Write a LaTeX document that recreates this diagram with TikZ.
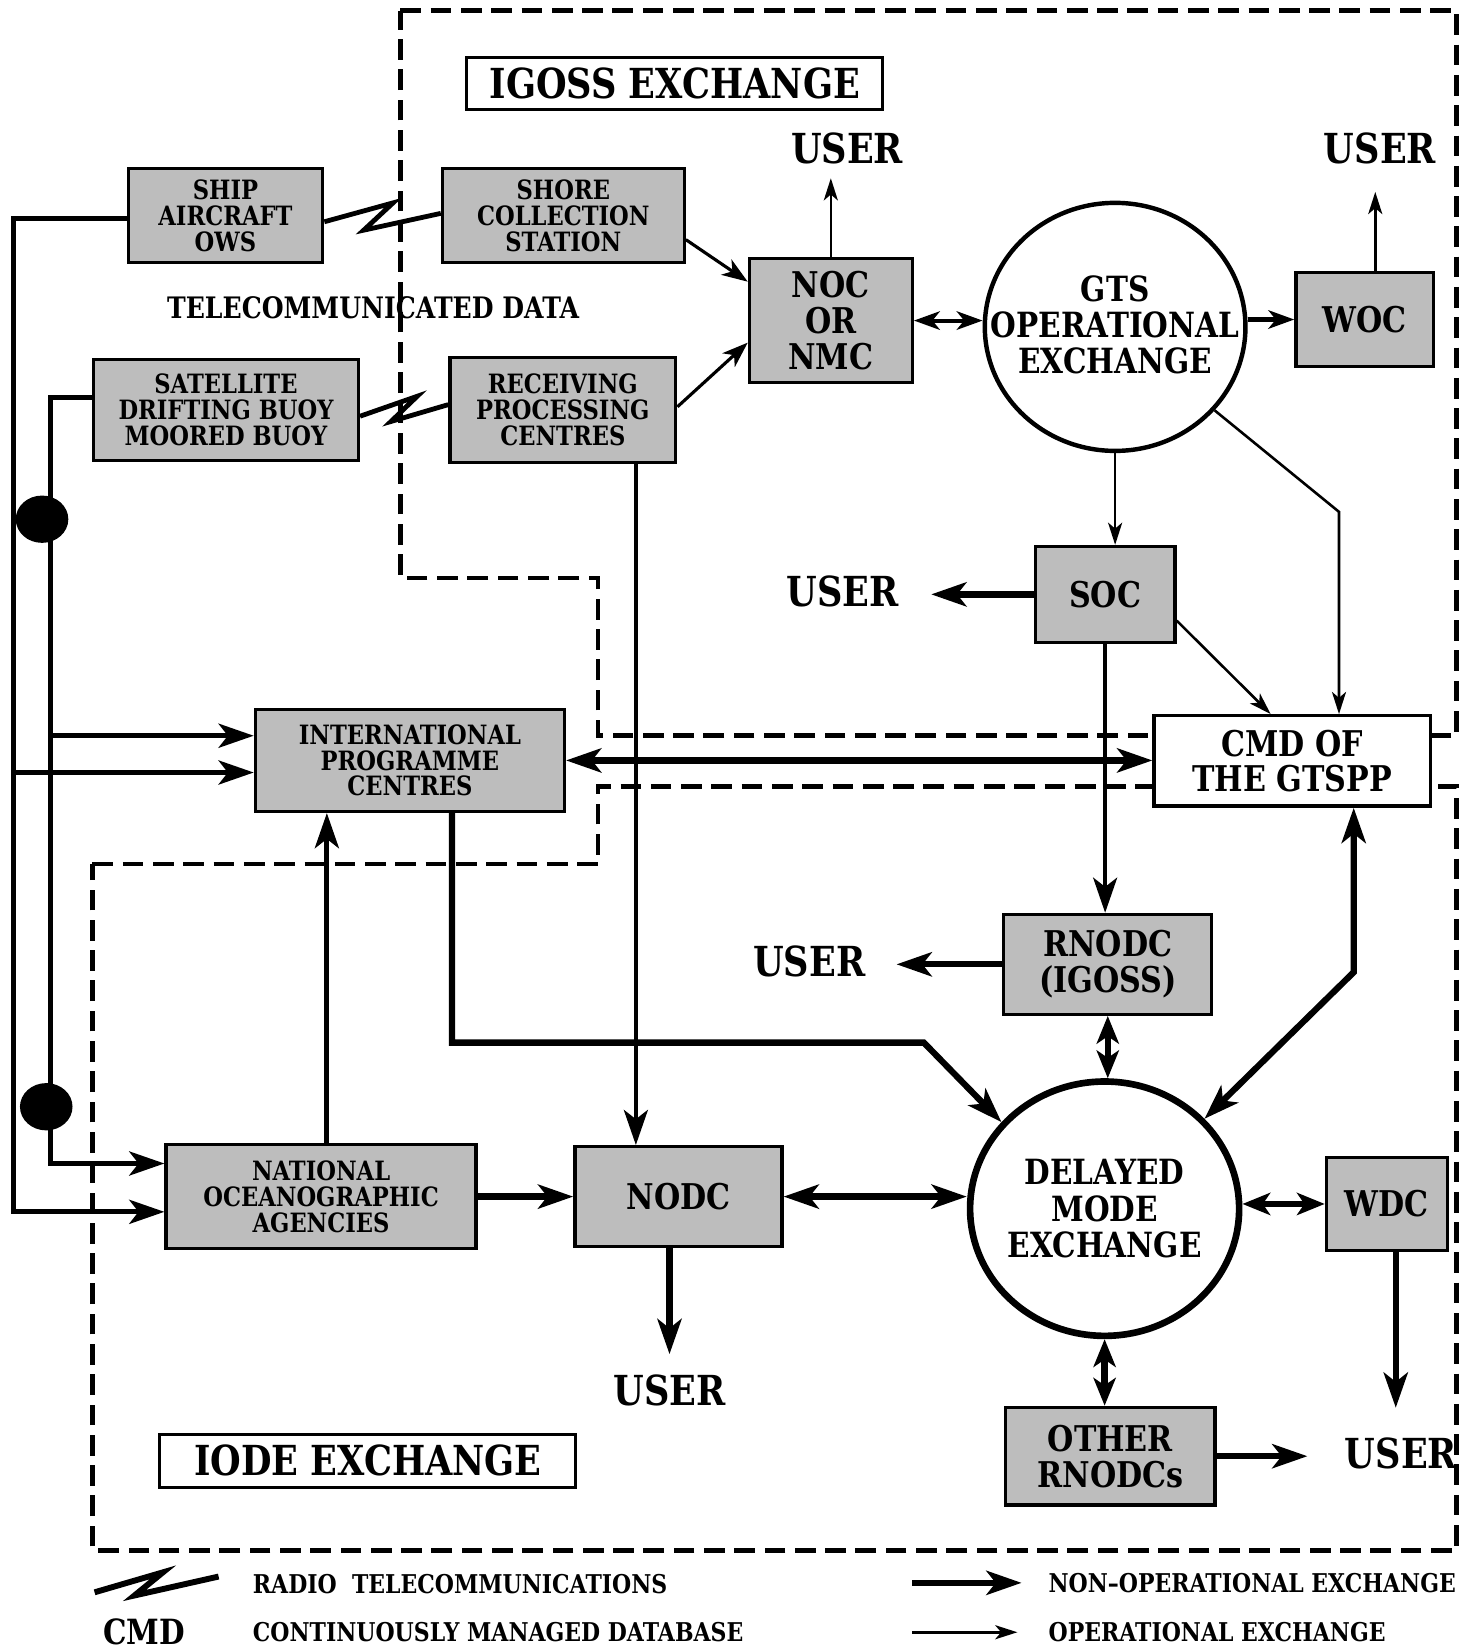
\documentclass[tikz,border=0pt]{standalone}
\usepackage{fontspec}
\setmainfont{DejaVu Serif}[FakeStretch=0.85]
\usetikzlibrary{arrows.meta,shapes.geometric,calc}
\definecolor{boxgray}{gray}{0.74}
\newcommand\fsz[2]{\fontsize{#1pt}{#2pt}\selectfont\bfseries}
\begin{document}
\begin{tikzpicture}[x=0.1mm,y=-0.1mm,
  boxnode/.style={draw, line width=0.9pt, fill=boxgray, inner sep=0pt, align=center, font=\fsz{7.2}{7}},
  bignode/.style={boxnode, font=\fsz{9.6}{9.7}},
  circnode/.style={ellipse, draw, fill=white, inner sep=0pt},
  circtxt/.style={inner sep=0pt, align=center, font=\fsz{9.4}{9.8}},
  usertxt/.style={inner sep=0pt, font=\fsz{11.2}{12}},
  labelbox/.style={draw, line width=0.8pt, fill=white, inner sep=0pt, font=\fsz{11.2}{12}},
  legtxt/.style={inner sep=0pt, font=\fsz{7}{7}},
  dotnode/.style={ellipse, fill=black, inner sep=0pt, minimum width=5mm, minimum height=4.5mm},
  region/.style={line width=1.3pt, dash pattern=on 5.6pt off 2.6pt},
  thk/.style={line width=1.7pt},
  med/.style={line width=1.1pt},
  thn/.style={line width=0.7pt},
  opl/.style={line width=0.85pt},
  bus/.style={line width=1.4pt},
  radio/.style={line width=1.3pt, line join=miter},
  tipB/.style={-{Stealth[length=9.5pt,width=6.5pt,inset=2.5pt]}},
  tipBB/.style={{Stealth[length=9.5pt,width=6.5pt,inset=2.5pt]}-{Stealth[length=9.5pt,width=6.5pt,inset=2.5pt]}},
  tipSB/.style={{Stealth[length=7.5pt,width=6pt,inset=2pt]}-{Stealth[length=7.5pt,width=6pt,inset=2pt]}},
  tipM/.style={-{Stealth[length=7pt,width=5pt,inset=2pt]}},
  tipMM/.style={{Stealth[length=7pt,width=5pt,inset=2pt]}-{Stealth[length=7pt,width=5pt,inset=2pt]}},
  tipS/.style={-{Stealth[length=6pt,width=3.8pt,inset=1.6pt]}}
]
\useasboundingbox (0,0) rectangle (1406,1568);

% regions
\draw[region] (381,10) -- (1386,10) -- (1386,700) -- (569,700) -- (569,550) -- (381,550) -- cycle;
\draw[region] (88,822) -- (569,822) -- (569,748) -- (1386,748) -- (1386,1475) -- (88,1475) -- cycle;

% nodes
\node[labelbox, minimum width=39.6mm, minimum height=4.9mm] (igoss) at (642,79.5) {IGOSS EXCHANGE};
\node[labelbox, minimum width=39.6mm, minimum height=5mm] (iode) at (350,1390) {IODE EXCHANGE};

\node[boxnode, minimum width=18.5mm, minimum height=9mm] (ship) at (214.5,205) {SHIP\\AIRCRAFT\\OWS};
\node[boxnode, minimum width=23mm, minimum height=9mm] (shore) at (536,205) {SHORE\\COLLECTION\\STATION};
\node[boxnode, minimum width=25.2mm, minimum height=9.6mm] (sat) at (215,390) {SATELLITE\\DRIFTING BUOY\\MOORED BUOY};
\node[boxnode, minimum width=21.5mm, minimum height=10mm] (recv) at (535.5,390) {RECEIVING\\PROCESSING\\CENTRES};
\node[bignode, minimum width=15.5mm, minimum height=11.8mm] (noc) at (790.5,305) {NOC\\OR\\NMC};
\node[circnode, line width=1.2pt, minimum width=24.8mm, minimum height=23.6mm] (gts) at (1061,311) {};
\node[circtxt] (gtst) at ([yshift=0.2mm]gts.center) {GTS\\OPERATIONAL\\EXCHANGE};
\node[bignode, minimum width=13.1mm, minimum height=9mm] (woc) at (1298.5,304) {WOC};
\node[bignode, minimum width=13.3mm, minimum height=9.1mm] (soc) at (1051.5,565.5) {SOC};
\node[boxnode, fill=white, font=\fsz{9.6}{9.4}, minimum width=26.3mm, minimum height=8.6mm] (cmd) at (1229.5,724) {CMD OF\\THE GTSPP};
\node[boxnode, minimum width=29.4mm, minimum height=9.7mm] (ipc) at (390,723.5) {INTERNATIONAL\\PROGRAMME\\CENTRES};
\node[bignode, minimum width=19.8mm, minimum height=9.5mm] (rnodc) at (1054,917.5) {RNODC\\(IGOSS)};
\node[boxnode, minimum width=29.5mm, minimum height=9.9mm] (nat) at (305.5,1138.5) {NATIONAL\\OCEANOGRAPHIC\\AGENCIES};
\node[bignode, minimum width=19.7mm, minimum height=9.5mm] (nodc) at (645.5,1138.5) {NODC};
\node[circnode, line width=1.8pt, minimum width=25.6mm, minimum height=24.2mm] (dme) at (1051,1150) {};
\node[circtxt] (dmet) at (dme.center) {DELAYED\\MODE\\EXCHANGE};
\node[bignode, minimum width=11.5mm, minimum height=8.9mm] (wdc) at (1319.5,1145.5) {WDC};
\node[bignode, minimum width=19.9mm, minimum height=9.3mm] (other) at (1056.5,1385.5) {OTHER\\RNODCs};

\node[usertxt] (u1) at (806,141) {USER};
\node[usertxt] (u2) at (1313,141) {USER};
\node[usertxt] (u3) at (802,563) {USER};
\node[usertxt] (u4) at (770,915) {USER};
\node[usertxt] (u5) at (637,1323) {USER};
\node[usertxt] (u6) at (1333,1383) {USER};

\node[inner sep=0pt, font=\fsz{8}{8}] (tele) at (355,293) {TELECOMMUNICATED DATA};

% left bus
\coordinate (ob1) at (13,1153);
\coordinate (ob2) at (13,735);
\coordinate (ib1) at (48,1107);
\coordinate (ib2) at (48,700);
\draw[bus, tipB] ([yshift=-0.3mm]ship.west) -| (ob1) -- (nat.west |- ob1);
\draw[bus, tipB] (ob2) -- (ipc.west |- ob2);
\draw[bus, tipB] ([yshift=1.2mm]sat.west) -| (ib1) -- (nat.west |- ib1);
\draw[bus, tipB] (ib2) -- (ipc.west |- ib2);
\node[dotnode] (dot1) at (40,494) {};
\node[dotnode] (dot2) at (44,1053) {};

% radio links
\draw[radio] ([yshift=-0.6mm]ship.east) -- (374,193) -- (346,219) -- ([yshift=0.2mm]shore.west);
\draw[radio] ([yshift=-0.6mm]sat.east) -- (397,377) -- (372,401) -- ([yshift=0.5mm]recv.west);

% IGOSS part
\draw[opl, tipM] ([yshift=-2.3mm]shore.east) -- ([yshift=3.7mm]noc.west);
\draw[opl, tipM] ([yshift=0.3mm]recv.east) -- ([yshift=-2.1mm]noc.west);
\draw[med, tipMM] (noc.east) -- (noc.east -| gts.west);
\draw[med, tipM] (woc.west -| gts.east) -- (woc.west);
\draw[thn, tipS, shorten >=1.3mm] (noc.north) -- (noc.north |- u1.south);
\draw[thn, tipS, shorten >=2.6mm] ([xshift=1mm]woc.north) -- ([xshift=1mm]woc.north |- u2.south);
\draw[thn, tipS] (gts.south) -- (gts.south |- soc.north);
\coordinate (gb) at (1274,487);
\draw[thn, tipS] (gts.-40) -- (gb) -- (gb |- cmd.north);
\draw[thn, tipS] ([yshift=-2.5mm]soc.east) -- ([xshift=-2.05mm]cmd.north);
\draw[thk, tipB, shorten >=3mm] (soc.west) -- (soc.west -| u3.east);
\draw[med, tipB] (soc.south) -- (soc.south |- rnodc.north);
\draw[med, tipB] ([xshift=6.95mm]recv.south) -- ([xshift=6.95mm]recv.south |- nodc.north);

% middle / IODE part
\draw[thk, tipBB] (ipc.east) -- (ipc.east -| cmd.west);
\draw[line width=1.4pt, tipB] ([xshift=0.55mm]nat.north) -- ([xshift=0.55mm]nat.north |- ipc.south);
\coordinate (ibend) at (879,992);
\draw[thk, tipB] ([xshift=4mm]ipc.south) |- (ibend) -- (dme.140);
\draw[thk, tipB] (nat.east) -- (nat.east -| nodc.west);
\draw[thk, tipBB] (nodc.east) -- (nodc.east -| dme.west);
\draw[thk, tipSB] (rnodc.south) -- (rnodc.south |- dme.north);
\coordinate (cbend) at (1288,925);
\draw[thk, tipBB] ([xshift=5.85mm]cmd.south) -- (cbend) -- (dme.42);
\draw[thk, tipSB] (wdc.west -| dme.east) -- (wdc.west);
\draw[thk, tipSB] (dme.south) -- (dme.south |- other.north);
\draw[thk, tipB, shorten >=2.9mm] (rnodc.west) -- (rnodc.west -| u4.east);
\draw[thk, tipB, shorten >=1.9mm] ([xshift=-0.85mm]nodc.south) -- ([xshift=-0.85mm]nodc.south |- u5.north);
\draw[thk, tipB, shorten >=2.8mm] ([xshift=0.85mm]wdc.south) -- ([xshift=0.85mm]wdc.south |- u6.north);
\draw[thk, tipB, shorten >=3.5mm] (other.east) -- (other.east -| u6.west);

% legend
\coordinate (lz1) at (90,1515);
\coordinate (lz2) at (155,1496);
\coordinate (lz3) at (128,1518);
\coordinate (lz4) at (208,1500);
\draw[radio, line width=1.6pt] (lz1) -- (lz2) -- (lz3) -- (lz4);
\node[legtxt, anchor=west] (l1) at (240,1507) {RADIO\ \ TELECOMMUNICATIONS};
\node[inner sep=0pt, font=\fsz{9.4}{9}] (l2) at (137,1553) {CMD};
\node[legtxt, anchor=west] (l3) at (240,1553) {CONTINUOUSLY MANAGED DATABASE};
\node[legtxt, anchor=west] (l4) at (997,1506) {NON–OPERATIONAL EXCHANGE};
\node[legtxt, anchor=west] (l5) at (997,1553) {OPERATIONAL EXCHANGE};
\coordinate (la1) at (868,1506);
\coordinate (la2) at (868,1553);
\draw[thk, tipB, shorten >=2.5mm] (la1) -- (l4.west);
\draw[thn, tipS, shorten >=2.9mm] (la2) -- (la2 -| l5.west);
\end{tikzpicture}
\end{document}
